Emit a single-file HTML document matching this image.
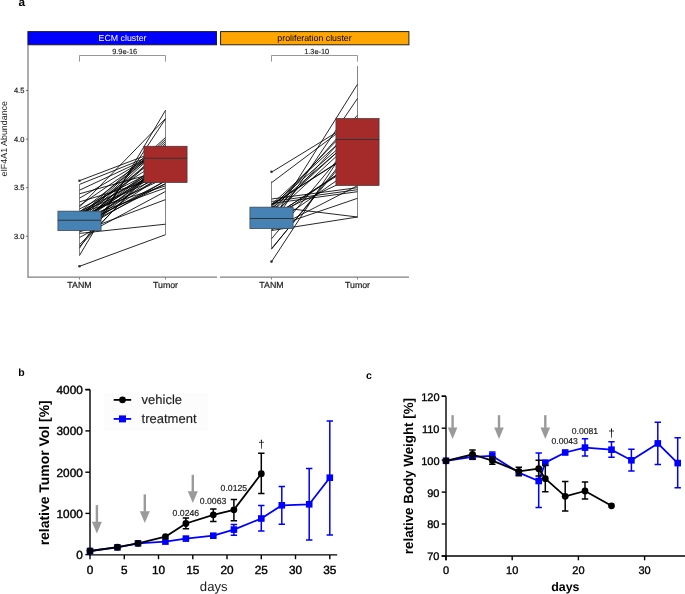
<!DOCTYPE html>
<html><head><meta charset="utf-8"><style>
html,body{margin:0;padding:0;background:#fff;}
body{width:685px;height:594px;overflow:hidden;font-family:"Liberation Sans",sans-serif;}
svg{display:block;will-change:transform;}
text{text-rendering:geometricPrecision;}
</style></head><body>
<svg width="685" height="594" viewBox="0 0 685 594">
<text x="18.4" y="6.2" font-family="'Liberation Sans', sans-serif" font-weight="bold" font-size="11.8" fill="#000">a</text>
<rect x="27.9" y="31.6" width="188.6" height="13.2" fill="#0000FF" stroke="#1a1a1a" stroke-width="0.95"/>
<text x="122.5" y="41.4" font-family="'Liberation Sans', sans-serif" font-size="8.8" fill="#FFFFFF" text-anchor="middle">ECM cluster</text>
<path d="M79.5 61.6V55.5H165.5V61.6" fill="none" stroke="#8c8c8c" stroke-width="0.9"/>
<text x="124.7" y="53.5" font-family="'Liberation Sans', sans-serif" font-size="7.4" fill="#222" stroke="#222" stroke-width="0.15" text-anchor="middle">9.9e-16</text>
<text x="79.5" y="288.2" font-family="'Liberation Sans', sans-serif" font-size="8.8" fill="#1a1a1a" stroke="#1a1a1a" stroke-width="0.2" text-anchor="middle">TANM</text>
<text x="165.5" y="288.2" font-family="'Liberation Sans', sans-serif" font-size="8.8" fill="#1a1a1a" stroke="#1a1a1a" stroke-width="0.2" text-anchor="middle">Tumor</text>
<path d="M79.5 277V279.5M165.5 277V279.5" stroke="#666" stroke-width="0.8"/>
<path d="M28 277.2H217" stroke="#808080" stroke-width="1.3"/>
<rect x="220.6" y="31.6" width="188.3" height="13.2" fill="#FFA500" stroke="#1a1a1a" stroke-width="0.95"/>
<text x="314.5" y="41.4" font-family="'Liberation Sans', sans-serif" font-size="8.8" fill="#000000" text-anchor="middle">proliferation cluster</text>
<path d="M271.5 61.6V55.5H357.5V61.6" fill="none" stroke="#8c8c8c" stroke-width="0.9"/>
<text x="316.7" y="53.5" font-family="'Liberation Sans', sans-serif" font-size="7.4" fill="#222" stroke="#222" stroke-width="0.15" text-anchor="middle">1.3e-10</text>
<text x="271.5" y="288.2" font-family="'Liberation Sans', sans-serif" font-size="8.8" fill="#1a1a1a" stroke="#1a1a1a" stroke-width="0.2" text-anchor="middle">TANM</text>
<text x="357.5" y="288.2" font-family="'Liberation Sans', sans-serif" font-size="8.8" fill="#1a1a1a" stroke="#1a1a1a" stroke-width="0.2" text-anchor="middle">Tumor</text>
<path d="M271.5 277V279.5M357.5 277V279.5" stroke="#666" stroke-width="0.8"/>
<path d="M220 277.2H409" stroke="#808080" stroke-width="1.3"/>
<path d="M28 45V277.8" stroke="#808080" stroke-width="1.3"/>
<path d="M26 90.5H28" stroke="#555" stroke-width="0.8"/>
<text x="24.4" y="93.2" font-family="'Liberation Sans', sans-serif" font-size="7.5" fill="#222" stroke="#222" stroke-width="0.2" text-anchor="end">4.5</text>
<path d="M26 139.1H28" stroke="#555" stroke-width="0.8"/>
<text x="24.4" y="141.8" font-family="'Liberation Sans', sans-serif" font-size="7.5" fill="#222" stroke="#222" stroke-width="0.2" text-anchor="end">4.0</text>
<path d="M26 187.7H28" stroke="#555" stroke-width="0.8"/>
<text x="24.4" y="190.3" font-family="'Liberation Sans', sans-serif" font-size="7.5" fill="#222" stroke="#222" stroke-width="0.2" text-anchor="end">3.5</text>
<path d="M26 236.3H28" stroke="#555" stroke-width="0.8"/>
<text x="24.4" y="239.0" font-family="'Liberation Sans', sans-serif" font-size="7.5" fill="#222" stroke="#222" stroke-width="0.2" text-anchor="end">3.0</text>
<text transform="translate(7.1 138.8) rotate(-90)" font-family="'Liberation Sans', sans-serif" font-size="8.9" fill="#222" text-anchor="middle">eIF4A1 Abundance</text>
<path d="M79.5 180.7L165.5 148.0M79.5 184.4L165.5 150.0M79.5 190.2L165.5 150.0M79.5 193.8L165.5 170.0M79.5 198.2L165.5 148.0M79.5 201.9L165.5 176.0M79.5 205.6L165.5 146.5M79.5 207.0L165.5 118.6M79.5 209.0L165.5 165.0M79.5 222.0L165.5 162.0M79.5 216.6L165.5 137.5M79.5 218.5L165.5 139.5M79.5 220.5L165.5 141.5M79.5 222.5L165.5 143.5M79.5 212.0L165.5 145.5M79.5 225.0L165.5 146.5M79.5 224.0L165.5 183.7M79.5 228.0L165.5 183.7M79.5 213.0L165.5 185.9M79.5 219.0L165.5 187.9M79.5 215.0L165.5 152.0M79.5 221.0L165.5 160.0M79.5 223.5L165.5 164.0M79.5 227.0L165.5 167.0M79.5 229.0L165.5 170.0M79.5 230.0L165.5 174.0M79.5 217.5L165.5 178.0M79.5 226.0L165.5 181.0M79.5 211.5L165.5 169.0M79.5 266.3L165.5 234.7M79.5 233.4L165.5 224.2M79.5 232.0L165.5 199.6M79.5 237.5L165.5 191.4M79.5 255.5L165.5 110.3M79.5 248.2L165.5 118.9M79.5 246.5L165.5 155.0M79.5 244.7L165.5 158.0M79.5 220.0L165.5 166.6M79.5 229.5L165.5 163.3M79.5 221.2L165.5 167.6M79.5 214.7L165.5 164.9M79.5 223.6L165.5 174.8M79.5 212.9L165.5 157.6M79.5 212.8L165.5 175.3M79.5 224.9L165.5 148.5M79.5 230.6L165.5 180.8" stroke="#000" stroke-width="0.85" fill="none"/>
<path d="M271.5 172.2L357.5 119.5M271.5 182.7L357.5 118.0M271.5 221.5L357.5 84.2M271.5 225.4L357.5 98.4M271.5 212.0L357.5 115.2M271.5 206.5L357.5 217.0M271.5 230.5L357.5 217.0M271.5 227.7L357.5 198.3M271.5 199.0L357.5 187.7M271.5 201.5L357.5 189.7M271.5 203.5L357.5 191.7M271.5 261.7L357.5 130.4M271.5 249.2L357.5 142.8M271.5 248.6L357.5 145.5M271.5 238.8L357.5 135.8M271.5 204.5L357.5 126.0M271.5 206.0L357.5 132.0M271.5 205.0L357.5 150.0M271.5 221.0L357.5 159.9M271.5 208.1L357.5 119.0M271.5 217.7L357.5 122.0M271.5 208.9L357.5 134.5M271.5 204.8L357.5 149.5M271.5 215.5L357.5 175.3M271.5 217.5L357.5 161.5M271.5 217.0L357.5 163.0M271.5 215.9L357.5 136.9M271.5 229.9L357.5 185.7M271.5 225.8L357.5 166.1M271.5 212.2L357.5 133.6" stroke="#000" stroke-width="0.85" fill="none"/>
<path d="M79.5 184.4V211.1M79.5 230.7V255.5" stroke="#333" stroke-width="0.6"/>
<rect x="57.9" y="211.1" width="43.2" height="19.6" fill="#4682B4" stroke="#333" stroke-width="0.6"/>
<path d="M57.9 220.3H101.1" stroke="#333" stroke-width="1.1"/>
<circle cx="79.5" cy="180.7" r="1.3" fill="#333"/>
<circle cx="79.5" cy="266.3" r="1.3" fill="#333"/>
<path d="M165.5 110.0V146.2M165.5 182.6V234.7" stroke="#333" stroke-width="0.6"/>
<rect x="143.9" y="146.2" width="43.2" height="36.4" fill="#A52A2A" stroke="#333" stroke-width="0.6"/>
<path d="M143.9 158.2H187.1" stroke="#333" stroke-width="1.1"/>
<path d="M271.5 181.2V207.1M271.5 228.7V248.9" stroke="#333" stroke-width="0.6"/>
<rect x="249.9" y="207.1" width="43.2" height="21.6" fill="#4682B4" stroke="#333" stroke-width="0.6"/>
<path d="M249.9 218.5H293.1" stroke="#333" stroke-width="1.1"/>
<circle cx="271.5" cy="171.7" r="1.3" fill="#333"/>
<circle cx="271.5" cy="261.6" r="1.3" fill="#333"/>
<path d="M357.5 66.1V118.4M357.5 185.6V217.6" stroke="#333" stroke-width="0.6"/>
<rect x="335.9" y="118.4" width="43.2" height="67.2" fill="#A52A2A" stroke="#333" stroke-width="0.6"/>
<path d="M335.9 139.5H379.1" stroke="#333" stroke-width="1.1"/>
<text x="18.3" y="375.6" font-family="'Liberation Sans', sans-serif" font-weight="bold" font-size="10.5" fill="#000">b</text>
<rect x="104" y="393" width="104.2" height="37.4" fill="#fcfcfc"/>
<rect x="95.7" y="505.1" width="2.4" height="17.2" fill="#9a9a9c"/>
<path d="M91.9 521.8H101.9L96.9 533.6Z" fill="#9a9a9c"/>
<rect x="143.6" y="494.4" width="2.4" height="17.3" fill="#9a9a9c"/>
<path d="M139.8 511.2H149.8L144.8 523Z" fill="#9a9a9c"/>
<rect x="191.6" y="474.8" width="2.4" height="16.9" fill="#9a9a9c"/>
<path d="M187.8 491.2H197.8L192.8 503Z" fill="#9a9a9c"/>
<path d="M90 389.5V555.5M85.4 389.5H90" stroke="#000" stroke-width="1.4" fill="none"/>
<path d="M85.4 554.6H90" stroke="#000" stroke-width="1.4"/>
<text x="82.8" y="559.0" font-family="'Liberation Sans', sans-serif" font-size="11.8" fill="#000" stroke="#000" stroke-width="0.4" text-anchor="end">0</text>
<path d="M85.4 513.4H90" stroke="#000" stroke-width="1.4"/>
<text x="82.8" y="517.8" font-family="'Liberation Sans', sans-serif" font-size="11.8" fill="#000" stroke="#000" stroke-width="0.4" text-anchor="end">1000</text>
<path d="M85.4 472.2H90" stroke="#000" stroke-width="1.4"/>
<text x="82.8" y="476.6" font-family="'Liberation Sans', sans-serif" font-size="11.8" fill="#000" stroke="#000" stroke-width="0.4" text-anchor="end">2000</text>
<path d="M85.4 430.9H90" stroke="#000" stroke-width="1.4"/>
<text x="82.8" y="435.3" font-family="'Liberation Sans', sans-serif" font-size="11.8" fill="#000" stroke="#000" stroke-width="0.4" text-anchor="end">3000</text>
<path d="M85.4 389.7H90" stroke="#000" stroke-width="1.4"/>
<text x="82.8" y="394.1" font-family="'Liberation Sans', sans-serif" font-size="11.8" fill="#000" stroke="#000" stroke-width="0.4" text-anchor="end">4000</text>
<path d="M89.3 554.9H337.2" stroke="#000" stroke-width="1.4"/>
<path d="M90.0 554.9V559.2" stroke="#000" stroke-width="1.4"/>
<text x="90.0" y="573.7" font-family="'Liberation Sans', sans-serif" font-size="11.8" fill="#000" stroke="#000" stroke-width="0.4" text-anchor="middle">0</text>
<path d="M124.3 554.9V559.2" stroke="#000" stroke-width="1.4"/>
<text x="124.3" y="573.7" font-family="'Liberation Sans', sans-serif" font-size="11.8" fill="#000" stroke="#000" stroke-width="0.4" text-anchor="middle">5</text>
<path d="M158.5 554.9V559.2" stroke="#000" stroke-width="1.4"/>
<text x="158.5" y="573.7" font-family="'Liberation Sans', sans-serif" font-size="11.8" fill="#000" stroke="#000" stroke-width="0.4" text-anchor="middle">10</text>
<path d="M192.8 554.9V559.2" stroke="#000" stroke-width="1.4"/>
<text x="192.8" y="573.7" font-family="'Liberation Sans', sans-serif" font-size="11.8" fill="#000" stroke="#000" stroke-width="0.4" text-anchor="middle">15</text>
<path d="M227.0 554.9V559.2" stroke="#000" stroke-width="1.4"/>
<text x="227.0" y="573.7" font-family="'Liberation Sans', sans-serif" font-size="11.8" fill="#000" stroke="#000" stroke-width="0.4" text-anchor="middle">20</text>
<path d="M261.3 554.9V559.2" stroke="#000" stroke-width="1.4"/>
<text x="261.3" y="573.7" font-family="'Liberation Sans', sans-serif" font-size="11.8" fill="#000" stroke="#000" stroke-width="0.4" text-anchor="middle">25</text>
<path d="M295.5 554.9V559.2" stroke="#000" stroke-width="1.4"/>
<text x="295.5" y="573.7" font-family="'Liberation Sans', sans-serif" font-size="11.8" fill="#000" stroke="#000" stroke-width="0.4" text-anchor="middle">30</text>
<path d="M329.8 554.9V559.2" stroke="#000" stroke-width="1.4"/>
<text x="329.8" y="573.7" font-family="'Liberation Sans', sans-serif" font-size="11.8" fill="#000" stroke="#000" stroke-width="0.4" text-anchor="middle">35</text>
<text x="213.7" y="590.6" font-family="'Liberation Sans', sans-serif" font-size="13.1" fill="#222" text-anchor="middle">days</text>
<text transform="translate(49.3 472.8) rotate(-90)" font-family="'Liberation Sans', sans-serif" font-weight="bold" font-size="13.95" fill="#000" text-anchor="middle">relative Tumor Vol [%]</text>
<path d="M233.9 524.6V535.2M230.7 524.6H237.1M230.7 535.2H237.1" stroke="#0000FF" stroke-width="1.5" fill="none"/><path d="M261.3 505.6V530.9M258.1 505.6H264.5M258.1 530.9H264.5" stroke="#0000FF" stroke-width="1.5" fill="none"/><path d="M281.8 486.6V524.2M278.6 486.6H285.0M278.6 524.2H285.0" stroke="#0000FF" stroke-width="1.5" fill="none"/><path d="M309.2 468.6V540.1M306.0 468.6H312.4M306.0 540.1H312.4" stroke="#0000FF" stroke-width="1.5" fill="none"/><path d="M329.8 420.9V535.1M326.6 420.9H333.0M326.6 535.1H333.0" stroke="#0000FF" stroke-width="1.5" fill="none"/><path d="M90.0 551.0L117.4 547.4L138.0 543.4L165.4 541.6L185.9 538.6L213.3 535.7L233.9 529.6L261.3 518.5L281.8 505.3L309.2 504.3L329.8 477.7" stroke="#0000FF" stroke-width="1.8" fill="none" stroke-linejoin="round"/><rect x="86.7" y="547.7" width="6.6" height="6.6" fill="#0000FF"/><rect x="114.1" y="544.1" width="6.6" height="6.6" fill="#0000FF"/><rect x="134.7" y="540.1" width="6.6" height="6.6" fill="#0000FF"/><rect x="162.1" y="538.3" width="6.6" height="6.6" fill="#0000FF"/><rect x="182.6" y="535.3" width="6.6" height="6.6" fill="#0000FF"/><rect x="210.0" y="532.4" width="6.6" height="6.6" fill="#0000FF"/><rect x="230.6" y="526.3" width="6.6" height="6.6" fill="#0000FF"/><rect x="258.0" y="515.2" width="6.6" height="6.6" fill="#0000FF"/><rect x="278.5" y="502.0" width="6.6" height="6.6" fill="#0000FF"/><rect x="305.9" y="501.0" width="6.6" height="6.6" fill="#0000FF"/><rect x="326.5" y="474.4" width="6.6" height="6.6" fill="#0000FF"/>
<path d="M185.9 518.1V528.7M182.7 518.1H189.1M182.7 528.7H189.1" stroke="#000" stroke-width="1.5" fill="none"/><path d="M213.3 508.9V521.5M210.1 508.9H216.5M210.1 521.5H216.5" stroke="#000" stroke-width="1.5" fill="none"/><path d="M233.9 499.6V520.7M230.7 499.6H237.1M230.7 520.7H237.1" stroke="#000" stroke-width="1.5" fill="none"/><path d="M261.3 453.3V493.5M258.1 453.3H264.5M258.1 493.5H264.5" stroke="#000" stroke-width="1.5" fill="none"/><path d="M90.0 551.0L117.4 547.2L138.0 543.3L165.4 536.7L185.9 523.5L213.3 514.8L233.9 509.8L261.3 473.7" stroke="#000" stroke-width="1.8" fill="none" stroke-linejoin="round"/><circle cx="90.0" cy="551.0" r="3.4" fill="#000"/><circle cx="117.4" cy="547.2" r="3.4" fill="#000"/><circle cx="138.0" cy="543.3" r="3.4" fill="#000"/><circle cx="165.4" cy="536.7" r="3.4" fill="#000"/><circle cx="185.9" cy="523.5" r="3.4" fill="#000"/><circle cx="213.3" cy="514.8" r="3.4" fill="#000"/><circle cx="233.9" cy="509.8" r="3.4" fill="#000"/><circle cx="261.3" cy="473.7" r="3.4" fill="#000"/>
<text x="172.6" y="515.7" font-family="'Liberation Sans', sans-serif" font-size="8.7" fill="#1e1e1e" stroke="#1e1e1e" stroke-width="0.2">0.0246</text>
<text x="199.8" y="503.7" font-family="'Liberation Sans', sans-serif" font-size="8.7" fill="#1e1e1e" stroke="#1e1e1e" stroke-width="0.2">0.0063</text>
<text x="220.6" y="490.7" font-family="'Liberation Sans', sans-serif" font-size="8.7" fill="#1e1e1e" stroke="#1e1e1e" stroke-width="0.2">0.0125</text>
<text x="261.4" y="447.8" font-family="'Liberation Sans', sans-serif" font-size="11.3" fill="#000" text-anchor="middle">†</text>
<path d="M113.7 399.9H131.2" stroke="#000" stroke-width="1.8"/><circle cx="122.5" cy="399.9" r="3.3" fill="#000"/>
<path d="M113.7 418.9H131.2" stroke="#0000FF" stroke-width="1.8"/><rect x="119" y="415.4" width="7" height="7" fill="#0000FF"/>
<text x="141.6" y="404.3" font-family="'Liberation Sans', sans-serif" font-size="13" fill="#1e1e1e" stroke="#1e1e1e" stroke-width="0.15">vehicle</text>
<text x="141.6" y="423.2" font-family="'Liberation Sans', sans-serif" font-size="13" fill="#1e1e1e" stroke="#1e1e1e" stroke-width="0.15">treatment</text>
<text x="366" y="379" font-family="'Liberation Sans', sans-serif" font-weight="bold" font-size="10.5" fill="#000">c</text>
<rect x="451.4" y="415.2" width="2.4" height="12.7" fill="#9a9a9c"/>
<path d="M447.8 427.4H457.4L452.6 439Z" fill="#9a9a9c"/>
<rect x="497.8" y="415.2" width="2.4" height="12.7" fill="#9a9a9c"/>
<path d="M494.2 427.4H503.8L499.0 439Z" fill="#9a9a9c"/>
<rect x="544.1" y="415.2" width="2.4" height="12.7" fill="#9a9a9c"/>
<path d="M540.5 427.4H550.1L545.3 439Z" fill="#9a9a9c"/>
<path d="M446 396.2V560.3M441.7 396.2H446" stroke="#000" stroke-width="1.4" fill="none"/>
<path d="M441.7 556.0H446" stroke="#000" stroke-width="1.4"/>
<text x="439.5" y="560.4" font-family="'Liberation Sans', sans-serif" font-size="11" fill="#000" stroke="#000" stroke-width="0.35" text-anchor="end">70</text>
<path d="M441.7 524.0H446" stroke="#000" stroke-width="1.4"/>
<text x="439.5" y="528.4" font-family="'Liberation Sans', sans-serif" font-size="11" fill="#000" stroke="#000" stroke-width="0.35" text-anchor="end">80</text>
<path d="M441.7 492.1H446" stroke="#000" stroke-width="1.4"/>
<text x="439.5" y="496.5" font-family="'Liberation Sans', sans-serif" font-size="11" fill="#000" stroke="#000" stroke-width="0.35" text-anchor="end">90</text>
<path d="M441.7 460.1H446" stroke="#000" stroke-width="1.4"/>
<text x="439.5" y="464.5" font-family="'Liberation Sans', sans-serif" font-size="11" fill="#000" stroke="#000" stroke-width="0.35" text-anchor="end">100</text>
<path d="M441.7 428.2H446" stroke="#000" stroke-width="1.4"/>
<text x="439.5" y="432.6" font-family="'Liberation Sans', sans-serif" font-size="11" fill="#000" stroke="#000" stroke-width="0.35" text-anchor="end">110</text>
<path d="M441.7 396.2H446" stroke="#000" stroke-width="1.4"/>
<text x="439.5" y="400.6" font-family="'Liberation Sans', sans-serif" font-size="11" fill="#000" stroke="#000" stroke-width="0.35" text-anchor="end">120</text>
<path d="M441.7 556H685" stroke="#000" stroke-width="1.4"/>
<path d="M446.0 556V560.3" stroke="#000" stroke-width="1.4"/>
<text x="446.0" y="574.3" font-family="'Liberation Sans', sans-serif" font-size="11" fill="#000" stroke="#000" stroke-width="0.35" text-anchor="middle">0</text>
<path d="M512.2 556V560.3" stroke="#000" stroke-width="1.4"/>
<text x="512.2" y="574.3" font-family="'Liberation Sans', sans-serif" font-size="11" fill="#000" stroke="#000" stroke-width="0.35" text-anchor="middle">10</text>
<path d="M578.4 556V560.3" stroke="#000" stroke-width="1.4"/>
<text x="578.4" y="574.3" font-family="'Liberation Sans', sans-serif" font-size="11" fill="#000" stroke="#000" stroke-width="0.35" text-anchor="middle">20</text>
<path d="M644.6 556V560.3" stroke="#000" stroke-width="1.4"/>
<text x="644.6" y="574.3" font-family="'Liberation Sans', sans-serif" font-size="11" fill="#000" stroke="#000" stroke-width="0.35" text-anchor="middle">30</text>
<text x="565.4" y="591.1" font-family="'Liberation Sans', sans-serif" font-weight="bold" font-size="12.4" fill="#000" text-anchor="middle">days</text>
<text transform="translate(413 476.1) rotate(-90)" font-family="'Liberation Sans', sans-serif" font-weight="bold" font-size="13.35" fill="#000" text-anchor="middle">relative Body Weight [%]</text>
<path d="M492.3 452V460M489.1 452H495.5M489.1 460H495.5" stroke="#0000FF" stroke-width="1.5" fill="none"/><path d="M538.7 452.9V507.6M535.5 452.9H541.9M535.5 507.6H541.9" stroke="#0000FF" stroke-width="1.5" fill="none"/><path d="M585.0 438.7V456.1M581.8 438.7H588.2M581.8 456.1H588.2" stroke="#0000FF" stroke-width="1.5" fill="none"/><path d="M611.5 441.7V457.2M608.3 441.7H614.7M608.3 457.2H614.7" stroke="#0000FF" stroke-width="1.5" fill="none"/><path d="M631.4 449.3V470.9M628.2 449.3H634.6M628.2 470.9H634.6" stroke="#0000FF" stroke-width="1.5" fill="none"/><path d="M657.8 422.2V464.6M654.6 422.2H661.0M654.6 464.6H661.0" stroke="#0000FF" stroke-width="1.5" fill="none"/><path d="M677.7 437.7V487.8M674.5 437.7H680.9M674.5 487.8H680.9" stroke="#0000FF" stroke-width="1.5" fill="none"/><path d="M446.0 460.8L472.5 456.8L492.3 455.9L518.8 472.6L538.7 481.0L545.3 462.6L565.2 452.5L585.0 447.6L611.5 449.7L631.4 460.3L657.8 443.4L677.7 463.1" stroke="#0000FF" stroke-width="1.8" fill="none" stroke-linejoin="round"/><rect x="442.7" y="457.5" width="6.6" height="6.6" fill="#0000FF"/><rect x="469.2" y="453.5" width="6.6" height="6.6" fill="#0000FF"/><rect x="489.0" y="452.6" width="6.6" height="6.6" fill="#0000FF"/><rect x="515.5" y="469.3" width="6.6" height="6.6" fill="#0000FF"/><rect x="535.4" y="477.7" width="6.6" height="6.6" fill="#0000FF"/><rect x="542.0" y="459.3" width="6.6" height="6.6" fill="#0000FF"/><rect x="561.9" y="449.2" width="6.6" height="6.6" fill="#0000FF"/><rect x="581.7" y="444.3" width="6.6" height="6.6" fill="#0000FF"/><rect x="608.2" y="446.4" width="6.6" height="6.6" fill="#0000FF"/><rect x="628.1" y="457.0" width="6.6" height="6.6" fill="#0000FF"/><rect x="654.5" y="440.1" width="6.6" height="6.6" fill="#0000FF"/><rect x="674.4" y="459.8" width="6.6" height="6.6" fill="#0000FF"/>
<path d="M472.5 450.1V458.9M469.3 450.1H475.7M469.3 458.9H475.7" stroke="#000" stroke-width="1.5" fill="none"/><path d="M492.3 456.8V464.3M489.1 456.8H495.5M489.1 464.3H495.5" stroke="#000" stroke-width="1.5" fill="none"/><path d="M518.8 467.3V475.7M515.6 467.3H522.0M515.6 475.7H522.0" stroke="#000" stroke-width="1.5" fill="none"/><path d="M538.7 460.3V476M535.5 460.3H541.9M535.5 476H541.9" stroke="#000" stroke-width="1.5" fill="none"/><path d="M545.3 465.5V491.8M542.1 465.5H548.5M542.1 491.8H548.5" stroke="#000" stroke-width="1.5" fill="none"/><path d="M565.2 481.5V511.1M562.0 481.5H568.4M562.0 511.1H568.4" stroke="#000" stroke-width="1.5" fill="none"/><path d="M585.0 482.1V498.9M581.8 482.1H588.2M581.8 498.9H588.2" stroke="#000" stroke-width="1.5" fill="none"/><path d="M446.0 460.8L472.5 454.5L492.3 460.6L518.8 471.3L538.7 468.7L545.3 478.7L565.2 496.3L585.0 491.0L611.5 505.8" stroke="#000" stroke-width="1.8" fill="none" stroke-linejoin="round"/><circle cx="446.0" cy="460.8" r="3.4" fill="#000"/><circle cx="472.5" cy="454.5" r="3.4" fill="#000"/><circle cx="492.3" cy="460.6" r="3.4" fill="#000"/><circle cx="518.8" cy="471.3" r="3.4" fill="#000"/><circle cx="538.7" cy="468.7" r="3.4" fill="#000"/><circle cx="545.3" cy="478.7" r="3.4" fill="#000"/><circle cx="565.2" cy="496.3" r="3.4" fill="#000"/><circle cx="585.0" cy="491.0" r="3.4" fill="#000"/><circle cx="611.5" cy="505.8" r="3.4" fill="#000"/>
<text x="551.6" y="443.8" font-family="'Liberation Sans', sans-serif" font-size="8.6" fill="#1e1e1e" stroke="#1e1e1e" stroke-width="0.2">0.0043</text>
<text x="571.8" y="433.9" font-family="'Liberation Sans', sans-serif" font-size="8.6" fill="#1e1e1e" stroke="#1e1e1e" stroke-width="0.2">0.0081</text>
<text x="611.5" y="436.8" font-family="'Liberation Sans', sans-serif" font-size="11.6" fill="#000" text-anchor="middle">†</text>
</svg>
</body></html>
